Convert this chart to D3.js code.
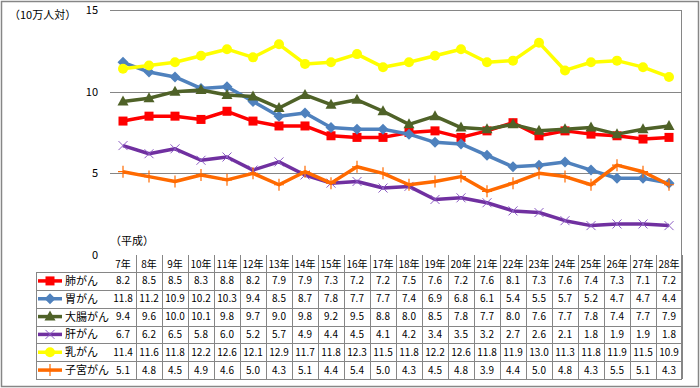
<!DOCTYPE html>
<html>
<head>
<meta charset="utf-8">
<script src="https://cdn.jsdelivr.net/npm/d3@7"></script>
<style>
  body { margin: 0; background: #fff; }
  svg { display: block; font-family: "Noto Sans CJK JP", "Noto Sans", sans-serif; }
</style>
</head>
<body>
<svg id="chart" width="700" height="388"></svg>
<script>
// categories (平成 years)
const years = ['7年', '8年', '9年', '10年', '11年', '12年', '13年', '14年', '15年', '16年', '17年',
  '18年', '19年', '20年', '21年', '22年', '23年', '24年', '25年', '26年', '27年', '28年'];

const seriesNames = ['肺がん', '胃がん', '大腸がん', '肝がん', '乳がん', '子宮がん'];

const lung = [8.2, 8.5, 8.5, 8.3, 8.8, 8.2, 7.9, 7.9, 7.3, 7.2, 7.2, 7.5, 7.6, 7.2, 7.6, 8.1, 7.3, 7.6, 7.4, 7.3, 7.1, 7.2];
const stomach = [11.8, 11.2, 10.9, 10.2, 10.3, 9.4, 8.5, 8.7, 7.8, 7.7, 7.7, 7.4, 6.9, 6.8, 6.1, 5.4, 5.5, 5.7, 5.2, 4.7, 4.7, 4.4];
const colon = [9.4, 9.6, 10.0, 10.1, 9.8, 9.7, 9.0, 9.8, 9.2, 9.5, 8.8, 8.0, 8.5, 7.8, 7.7, 8.0, 7.6, 7.7, 7.8, 7.4, 7.7, 7.9];
const liver = [6.7, 6.2, 6.5, 5.8, 6.0, 5.2, 5.7, 4.9, 4.4, 4.5, 4.1, 4.2, 3.4, 3.5, 3.2, 2.7, 2.6, 2.1, 1.8, 1.9, 1.9, 1.8];
const breast = [11.4, 11.6, 11.8, 12.2, 12.6, 12.1, 12.9, 11.7, 11.8, 12.3, 11.5, 11.8, 12.2, 12.6, 11.8, 11.9, 13.0, 11.3, 11.8, 11.9, 11.5, 10.9];
const uterus = [5.1, 4.8, 4.5, 4.9, 4.6, 5.0, 4.3, 5.1, 4.4, 5.4, 5.0, 4.3, 4.5, 4.8, 3.9, 4.4, 5.0, 4.8, 4.3, 5.5, 5.1, 4.3];

const yTicks = [0, 5, 10, 15];

const series = [
  { name: seriesNames[0], values: lung, color: '#ff0000', marker: 'square' },
  { name: seriesNames[1], values: stomach, color: '#4f81bd', marker: 'diamond' },
  { name: seriesNames[2], values: colon, color: '#4f6228', marker: 'triangle' },
  { name: seriesNames[3], values: liver, color: '#7030a0', marker: 'cross' },
  { name: seriesNames[4], values: breast, color: '#ffff00', marker: 'circle' },
  { name: seriesNames[5], values: uterus, color: '#ff6a00', marker: 'plus' }
];

const svg = d3.select('#chart');
const grid = '#868686';

// outer chart border
svg.append('rect')
  .attr('x', 1.5).attr('y', 1.5)
  .attr('width', 697).attr('height', 385)
  .attr('fill', 'none')
  .attr('stroke', grid)
  .attr('stroke-width', 1.5);

const x = d3.scaleBand().domain(years).range([110, 682]);
const y = d3.scaleLinear().domain([0, 15]).range([255, 10]);
const rowY = d3.scaleBand().domain(seriesNames).range([272, 379]);

// grid lines (the 0 line is left out, the table starts there)
svg.append('g')
  .selectAll('line')
  .data(yTicks.filter(t => t > 0))
  .join('line')
  .attr('x1', 110).attr('x2', 682)
  .attr('y1', d => Math.round(y(d)) + 0.5)
  .attr('y2', d => Math.round(y(d)) + 0.5)
  .attr('stroke', grid);

// right edge of plot area down through the table
svg.append('line')
  .attr('x1', 681.5).attr('x2', 681.5)
  .attr('y1', Math.round(y(15))).attr('y2', 379.5)
  .attr('stroke', grid);

// y tick labels
svg.append('g')
  .selectAll('text')
  .data(yTicks)
  .join('text')
  .attr('x', 98)
  .attr('y', d => y(d) + 4)
  .attr('text-anchor', 'end')
  .style('font-size', '11px')
  .attr('fill', '#000')
  .text(d => d);

svg.append('text')
  .attr('x', 9).attr('y', 19)
  .style('font-size', '11px')
  .text('（10万人対）');

svg.append('text')
  .attr('x', 110).attr('y', 245)
  .style('font-size', '11px')
  .text('（平成）');

// data table
const table = svg.append('g');

// header separators
table.selectAll('line.hsep')
  .data(years)
  .join('line')
  .attr('x1', d => Math.round(x(d) + x.bandwidth()) + 0.5)
  .attr('x2', d => Math.round(x(d) + x.bandwidth()) + 0.5)
  .attr('y1', 255).attr('y2', 379)
  .attr('stroke', grid);

// row lines
table.selectAll('line.row')
  .data(seriesNames.concat(['end']))
  .join('line')
  .attr('x1', 36).attr('x2', 682)
  .attr('y1', (d, i) => Math.round(272 + i * rowY.bandwidth()) + 0.5)
  .attr('y2', (d, i) => Math.round(272 + i * rowY.bandwidth()) + 0.5)
  .attr('stroke', grid);

table.append('line')
  .attr('x1', 36.5).attr('x2', 36.5)
  .attr('y1', 272).attr('y2', 379)
  .attr('stroke', grid);

// header labels
table.selectAll('text.year')
  .data(years)
  .join('text')
  .attr('x', d => x(d) + x.bandwidth() / 2)
  .attr('y', 268)
  .attr('text-anchor', 'middle')
  .style('font-size', '10px')
  .text(d => d);

function drawMarker(g, type, color, cx, cy) {
  if (type === 'square') {
    g.append('rect').attr('x', cx - 4.5).attr('y', cy - 4.5).attr('width', 9).attr('height', 9).attr('fill', color);
  } else if (type === 'diamond') {
    g.append('path').attr('d', `M${cx},${cy - 5.5}L${cx + 5.5},${cy}L${cx},${cy + 5.5}L${cx - 5.5},${cy}Z`).attr('fill', color);
  } else if (type === 'triangle') {
    g.append('path').attr('d', `M${cx},${cy - 6}L${cx + 5.5},${cy + 4}L${cx - 5.5},${cy + 4}Z`).attr('fill', color);
  } else if (type === 'circle') {
    g.append('circle').attr('cx', cx).attr('cy', cy).attr('r', 5).attr('fill', color);
  } else if (type === 'cross') {
    g.append('path').attr('d', `M${cx - 4.5},${cy - 4.5}L${cx + 4.5},${cy + 4.5}M${cx - 4.5},${cy + 4.5}L${cx + 4.5},${cy - 4.5}`)
      .attr('stroke', '#8c5cc4').attr('stroke-width', 1);
  } else if (type === 'plus') {
    g.append('path').attr('d', `M${cx},${cy - 6}L${cx},${cy + 6}M${cx - 5},${cy}L${cx + 5},${cy}`)
      .attr('stroke', color).attr('stroke-width', 1.2);
  }
}

// table rows: legend key + values
series.forEach(s => {
  const cy = rowY(s.name) + rowY.bandwidth() / 2;
  const row = table.append('g');
  row.append('line')
    .attr('x1', 38).attr('x2', 62)
    .attr('y1', cy).attr('y2', cy)
    .attr('stroke', s.color).attr('stroke-width', 3.5);
  drawMarker(row, s.marker, s.color, 50, cy);
  row.append('text')
    .attr('x', 65).attr('y', cy + 4)
    .style('font-size', '11px')
    .text(s.name);
  row.selectAll('text.val')
    .data(s.values)
    .join('text')
    .attr('x', (d, i) => x(years[i]) + x.bandwidth() / 2)
    .attr('y', cy + 3.5)
    .attr('text-anchor', 'middle')
    .style('font-size', '10px')
    .text(d => d.toFixed(1));
});

// lines and markers
const line = d3.line()
  .x((d, i) => x(years[i]) + x.bandwidth() / 2)
  .y(d => y(d));

series.forEach(s => {
  const g = svg.append('g');
  g.append('path')
    .datum(s.values)
    .attr('d', line)
    .attr('fill', 'none')
    .attr('stroke', s.color)
    .attr('stroke-width', 3.5)
    .attr('stroke-linejoin', 'round');
  s.values.forEach((v, i) => {
    drawMarker(g, s.marker, s.color, x(years[i]) + x.bandwidth() / 2, y(v));
  });
});
</script>
</body>
</html>
